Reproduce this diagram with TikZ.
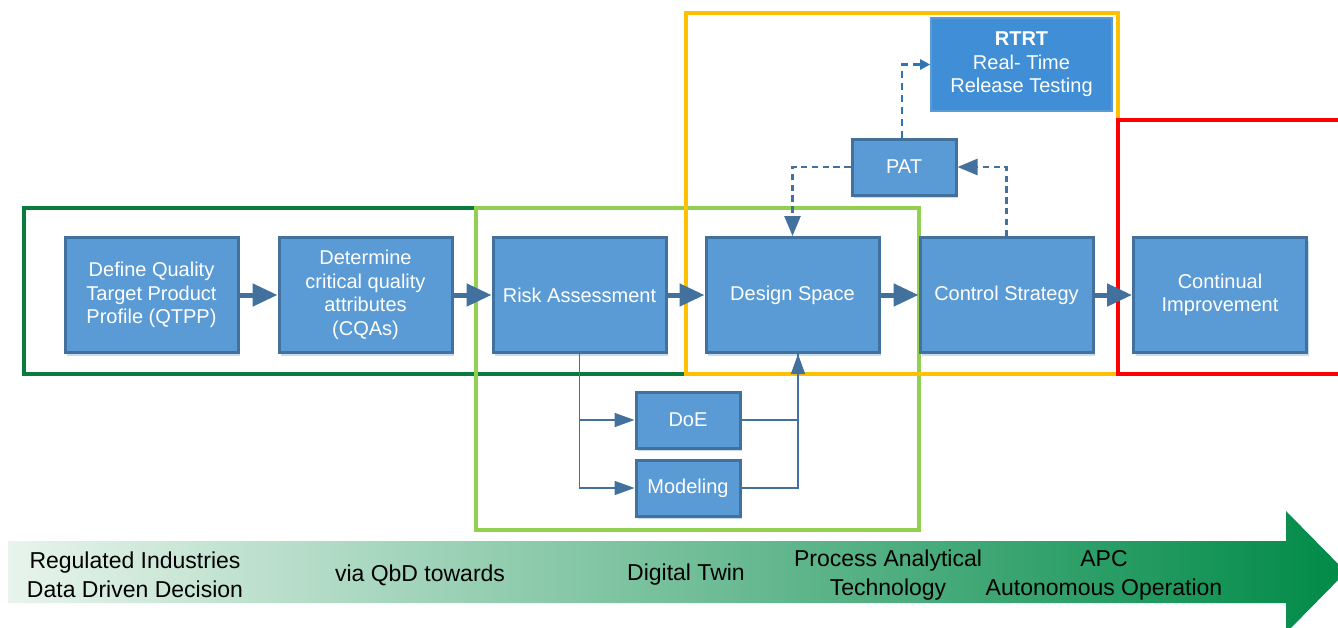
\documentclass[tikz,border=0pt]{standalone}
\usepackage{fontspec}
\setmainfont{Liberation Sans}
\usetikzlibrary{arrows.meta,shadows,calc}

\definecolor{boxfill}{HTML}{5B9BD5}
\definecolor{boxedge}{HTML}{41719C}
\definecolor{rtrtfill}{HTML}{3F8ED6}
\definecolor{rtrtedge}{HTML}{5B9BD5}
\definecolor{linkblue}{HTML}{2E75B6}
\definecolor{shadowc}{HTML}{C9DBEE}
\definecolor{darkgreen}{HTML}{0A7B3E}
\definecolor{lightgreen}{HTML}{92D050}
\definecolor{frameyellow}{HTML}{FFC000}
\definecolor{framered}{HTML}{FF0000}
\definecolor{arrowL}{HTML}{E8F4EC}
\definecolor{arrowR}{HTML}{008A48}

\tikzset{
  box/.style={draw=boxedge, fill=boxfill, line width=1.5pt, text=white,
    font=\fontsize{10}{11.75}\selectfont, align=center, inner sep=0pt,
    drop shadow={shadow xshift=1pt, shadow yshift=-1.5pt, fill=shadowc, opacity=1}},
  bigbox/.style={box, minimum width=86.5pt, minimum height=57.5pt},
  smallbox/.style={box, minimum width=52pt, minimum height=28pt},
  flow/.style={draw=boxedge, line width=2.5pt,
    -{Triangle[length=12.5pt,width=11pt]}},
  branch/.style={draw=boxedge, line width=0.8pt},
  branchtip/.style={branch, -{Triangle[length=10pt,width=7pt]}},
  feedback/.style={draw=boxedge, line width=1.3pt, dash pattern=on 3.2pt off 2.2pt,
    -{Triangle[length=10pt,width=8pt]}},
  release/.style={draw=linkblue, line width=1.2pt, dash pattern=on 3.5pt off 2.5pt,
    -{Triangle[length=5pt,width=5pt]}},
  frame/.style={line width=2pt},
  caption/.style={font=\fontsize{11.5}{14.5}\selectfont, align=center, text=black}
}

\begin{document}
\begin{tikzpicture}[x=0.5pt,y=-0.5pt]
\useasboundingbox (0,0) rectangle (1338,627);

% phase frames
\draw[frame, darkgreen] (24,208) rectangle (686,374);
\draw[frame, lightgreen] (476,208) rectangle (919,530);
\draw[frame, frameyellow] (686,13) rectangle (1118,374);
\draw[frame, framered] (1118,120) rectangle (1345,374);

% main QbD chain
\node[bigbox] (qtpp) at (151.5,295) {Define Quality\\Target Product\\Profile (QTPP)};
\node[bigbox] (cqa)  at (365.5,295) {Determine\\critical quality\\attributes\\(CQAs)};
\node[bigbox] (risk) at (579.5,295) {Risk Assessment};
\node[bigbox] (ds)   at (792.5,295) {Design Space};
\node[bigbox] (cs)   at (1006.5,295) {Control Strategy};
\node[bigbox] (ci)   at (1220,295) {Continual\\Improvement};

% supporting tools
\node[smallbox] (doe) at (688,420) {DoE};
\node[smallbox] (mod) at (688,488) {Modeling};
\node[smallbox] (pat) at (904,167) {PAT};
\node[draw=rtrtedge, fill=rtrtfill, line width=0.8pt, text=white,
  font=\fontsize{10}{11.75}\selectfont, align=center, inner sep=0pt,
  minimum width=90.5pt, minimum height=46.5pt] (rtrt) at (1021.5,64.5)
  {\textbf{RTRT}\\Real- Time\\Release Testing};

% flow arrows
\draw[flow] (qtpp.east) -- (cqa.west);
\draw[flow] (cqa.east) -- (risk.west);
\draw[flow] (risk.east) -- (ds.west);
\draw[flow] (ds.east) -- (cs.west);
\draw[flow] (cs.east) -- (ci.west);

% risk assessment feeds DoE and modeling, both feed design space
\draw[branchtip] (risk.south) |- (doe.west);
\draw[branchtip] (risk.south) |- (mod.west);
\draw[branch] (doe.east) -| ([xshift=2.75pt]ds.south);
\draw[branchtip] (mod.east) -| ([xshift=2.75pt]ds.south);

% PAT loop
\draw[feedback] (pat.west) -| (ds.north);
\draw[feedback] (cs.north) |- (pat.east);
\draw[release] ([xshift=-1pt]pat.north) |- (rtrt.west);

% maturity arrow
\shade[left color=arrowL, right color=arrowR]
  (8,541) -- (1286,541) -- (1286,511) -- (1346,572) -- (1286,633)
  -- (1286,603) -- (8,603) -- cycle;
\node[caption] (t1) at (135,575) {Regulated Industries\\Data Driven Decision};
\node[caption] (t2) at (420,575) {via QbD towards};
\node[caption] (t3) at (686,575) {Digital Twin};
\node[caption] (t4) at (888,575) {Process Analytical\\Technology};
\node[caption] (t5) at (1104,575) {APC\\Autonomous Operation};
\end{tikzpicture}
\end{document}
